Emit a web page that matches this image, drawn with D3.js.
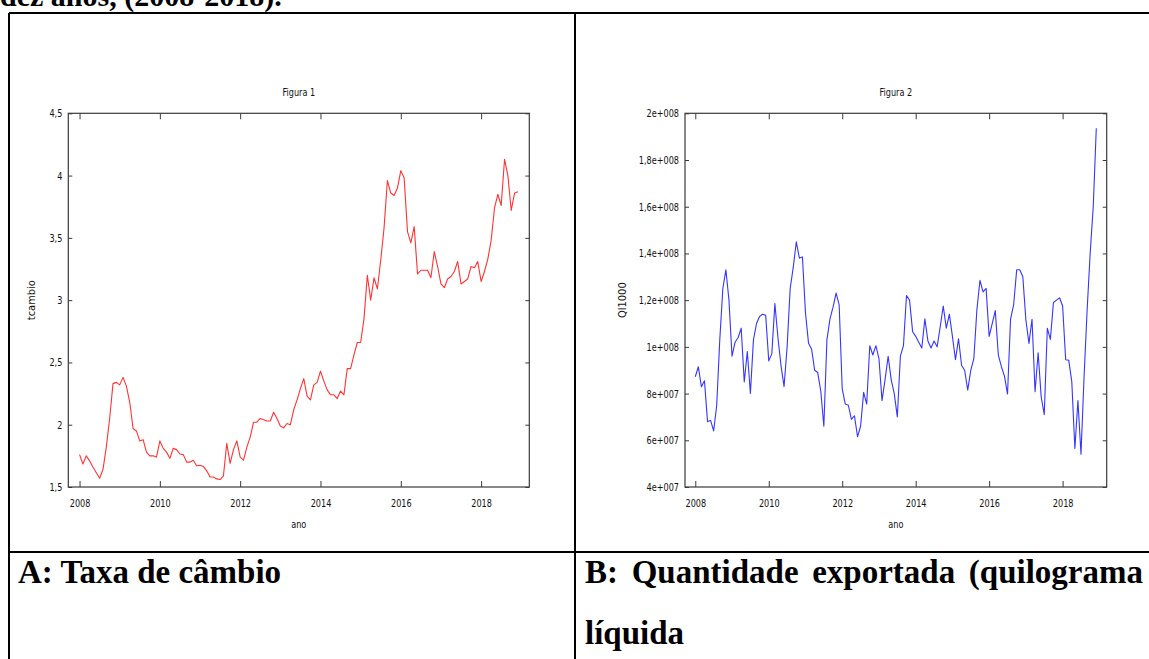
<!DOCTYPE html>
<html>
<head>
<meta charset="utf-8">
<script src="https://cdn.jsdelivr.net/npm/d3@7"></script>
<style>
  body { margin: 0; background: #fff; }
  svg { display: block; }
</style>
</head>
<body>
<div id="chart"></div>
<script>
const [WIDTH, HEIGHT] = [1149, 659];

// monthly series, 2008:01 .. 2018:12
const START_YEAR = 2008;

const tcambio = [
    1.76, 1.685, 1.75, 1.71, 1.66, 1.615, 1.57, 1.64, 1.82, 2.05, 2.33, 2.34,
    2.32, 2.38, 2.31, 2.18, 1.97, 1.95, 1.87, 1.88, 1.78, 1.75, 1.75, 1.74,
    1.87, 1.81, 1.78, 1.73, 1.81, 1.80, 1.765, 1.76, 1.70, 1.70, 1.715, 1.67,
    1.675, 1.665, 1.63, 1.58, 1.58, 1.565, 1.56, 1.59, 1.85, 1.69, 1.80, 1.87,
    1.74, 1.715, 1.82, 1.90, 2.02, 2.02, 2.05, 2.04, 2.03, 2.03, 2.10, 2.05,
    1.99, 1.975, 2.01, 2.00, 2.12, 2.20, 2.29, 2.37, 2.23, 2.20, 2.32, 2.34,
    2.43, 2.35, 2.28, 2.24, 2.24, 2.21, 2.27, 2.24, 2.45, 2.45, 2.56, 2.66,
    2.66, 2.85, 3.20, 3.00, 3.18, 3.09, 3.32, 3.58, 3.96, 3.86, 3.84, 3.90,
    4.04, 3.98, 3.55, 3.46, 3.59, 3.21, 3.24, 3.24, 3.24, 3.18, 3.39, 3.27,
    3.13, 3.10, 3.17, 3.19, 3.23, 3.31, 3.13, 3.15, 3.17, 3.27, 3.26, 3.31,
    3.15, 3.23, 3.33, 3.48, 3.74, 3.85, 3.76, 4.13, 4.00, 3.72, 3.86, 3.87,
];

// Ql1000, read in units of 1e7
const ql1000 = [
    8.72, 9.15, 8.29, 8.55, 6.8, 6.85, 6.4, 7.5, 10.3, 12.5, 13.3, 12.0,
    9.6, 10.2, 10.4, 10.8, 8.5, 9.8, 8.0, 10.3, 11.0, 11.3, 11.4, 11.35,
    9.4, 9.7, 11.85, 10.4, 9.2, 8.3, 10.0, 12.5, 13.4, 14.5, 13.8, 13.85,
    11.45, 10.15, 9.9, 9.0, 8.9, 8.1, 6.6, 10.3, 11.2, 11.7, 12.3, 11.8,
    8.2, 7.55, 7.5, 6.9, 7.05, 6.15, 6.6, 8.05, 7.55, 10.05, 9.65, 10.05,
    9.5, 7.7, 8.6, 9.6, 8.6, 8.0, 7.0, 9.6, 10.05, 12.2, 12.0, 10.65,
    10.45, 10.2, 9.95, 11.2, 10.25, 9.95, 10.25, 10.0, 10.85, 11.75, 10.8, 11.4,
    10.45, 9.45, 10.35, 9.2, 9.0, 8.15, 9.0, 9.5, 11.6, 12.85, 12.35, 12.5,
    10.45, 11.0, 11.55, 9.65, 9.15, 8.75, 7.98, 11.2, 11.8, 13.3, 13.3, 13.0,
    11.15, 10.15, 11.18, 8.08, 9.75, 7.86, 7.1, 10.8, 10.32, 11.9, 12.0, 12.1,
    11.75, 9.45, 9.43, 8.5, 5.65, 7.7, 5.4, 8.7, 11.57, 14.0, 16.0, 19.36,
];

const xTicks = [2008, 2010, 2012, 2014, 2016, 2018];
const xTickLabels = ['2008', '2010', '2012', '2014', '2016', '2018'];

const tcambioTicks = [1.5, 2, 2.5, 3, 3.5, 4, 4.5];
const tcambioTickLabels = ['1,5', '2', '2,5', '3', '3,5', '4', '4,5'];

const qlTicks = [4e7, 6e7, 8e7, 1e8, 1.2e8, 1.4e8, 1.6e8, 1.8e8, 2e8];
const qlTickLabels = ['4e+007', '6e+007', '8e+007', '1e+008', '1,2e+008',
    '1,4e+008', '1,6e+008', '1,8e+008', '2e+008'];

const PLOT_FONT = '"DejaVu Sans Condensed", "DejaVu Sans", sans-serif';
const TABLE_FONT = '"Liberation Serif", "Times New Roman", serif';
const SQUEEZE = 0.82; // plot text looks horizontally squashed in the original
const FRAME_COLOR = '#3a3a3a';

const svg = d3.select('#chart').append('svg')
    .attr('width', WIDTH)
    .attr('height', HEIGHT)
    .attr('viewBox', `0 0 ${WIDTH} ${HEIGHT}`);

svg.append('rect')
    .attr('width', WIDTH)
    .attr('height', HEIGHT)
    .attr('fill', '#fff');

// ---- document table around the figures ----
svg.append('text')
    .attr('x', 0)
    .attr('y', 6)
    .attr('font-family', TABLE_FONT)
    .attr('font-weight', 'bold')
    .attr('font-size', 30)
    .text('dez anos, (2008-2018).');

const table = svg.append('g')
    .attr('stroke', '#000')
    .attr('stroke-width', 2);
table.append('line').attr('x1', 9).attr('x2', WIDTH + 2).attr('y1', 13).attr('y2', 13);
table.append('line').attr('x1', 9).attr('x2', 9).attr('y1', 13).attr('y2', HEIGHT + 2);
table.append('line').attr('x1', 575).attr('x2', 575).attr('y1', 13).attr('y2', HEIGHT + 2);
table.append('line').attr('x1', 9).attr('x2', WIDTH + 2).attr('y1', 552).attr('y2', 552);

const captions = svg.append('g')
    .attr('font-family', TABLE_FONT)
    .attr('font-weight', 'bold')
    .attr('font-size', 33)
    .attr('fill', '#000');

captions.append('text')
    .attr('x', 18)
    .attr('y', 583)
    .text('A: Taxa de câmbio');

// justified first line of caption B
const captionBWords = ['B:', 'Quantidade', 'exportada', '(quilograma'];
const [bLeft, bRight] = [585, 1143];
const bWords = captions.selectAll('.bword')
    .data(captionBWords)
    .enter()
    .append('text')
    .attr('class', 'bword')
    .attr('y', 583)
    .text((d) => d);
const widths = [];
bWords.each(function () { widths.push(this.getComputedTextLength()); });
const gap = (bRight - bLeft - d3.sum(widths)) / (captionBWords.length - 1);
let cursor = bLeft;
bWords.attr('x', (d, i) => {
    const x = cursor;
    cursor += widths[i] + gap;
    return x;
});

captions.append('text')
    .attr('x', bLeft)
    .attr('y', 644)
    .text('líquida');

// ---- the two gretl-style plots ----
function drawPanel(cfg) {
    const x = d3.scaleLinear()
        .domain([2007.72, 2019.2])
        .range([cfg.left, cfg.right]);
    const y = d3.scaleLinear()
        .domain(cfg.yDomain)
        .range([cfg.bottom, cfg.top]);

    const g = svg.append('g')
        .attr('font-family', PLOT_FONT)
        .attr('font-size', 11)
        .attr('fill', '#111');

    const bottomAxis = d3.axisBottom(x)
        .tickValues(xTicks)
        .tickFormat((d, i) => xTickLabels[i])
        .tickSizeInner(-6)
        .tickSizeOuter(0)
        .tickPadding(12);
    const leftAxis = d3.axisLeft(y)
        .tickValues(cfg.yTicks)
        .tickFormat((d, i) => cfg.yTickLabels[i])
        .tickSizeInner(-4)
        .tickSizeOuter(0)
        .tickPadding(6);

    const axes = [
        [bottomAxis, `translate(0,${cfg.bottom})`],
        [leftAxis, `translate(${cfg.left},0)`],
        [d3.axisTop(x).tickValues(xTicks).tickFormat('').tickSizeInner(-6).tickSizeOuter(0),
            `translate(0,${cfg.top})`],
        [d3.axisRight(y).tickValues(cfg.yTicks).tickFormat('').tickSizeInner(-4).tickSizeOuter(0),
            `translate(${cfg.right},0)`],
    ];
    axes.forEach(([axis, transform]) => {
        const a = g.append('g')
            .attr('transform', transform)
            .call(axis);
        a.select('.domain').remove();
        a.selectAll('line').attr('stroke', FRAME_COLOR);
        a.selectAll('text')
            .attr('class', 'squeeze')
            .attr('fill', '#111')
            .attr('font-family', PLOT_FONT)
            .attr('font-size', 11);
    });

    g.append('rect')
        .attr('x', cfg.left)
        .attr('y', cfg.top)
        .attr('width', cfg.right - cfg.left)
        .attr('height', cfg.bottom - cfg.top)
        .attr('fill', 'none')
        .attr('stroke', FRAME_COLOR)
        .attr('stroke-width', 1.2);

    const line = d3.line()
        .x((d, i) => x(START_YEAR + i / 12))
        .y((d) => y(d));

    g.append('path')
        .datum(cfg.values)
        .attr('d', line)
        .attr('fill', 'none')
        .attr('stroke', cfg.color)
        .attr('stroke-width', 1.1)
        .attr('stroke-linejoin', 'round');

    g.append('text')
        .attr('class', 'squeeze')
        .attr('x', (cfg.left + cfg.right) / 2)
        .attr('y', 96)
        .attr('text-anchor', 'middle')
        .text(cfg.title);

    g.append('text')
        .attr('class', 'squeeze')
        .attr('x', (cfg.left + cfg.right) / 2)
        .attr('y', 528)
        .attr('text-anchor', 'middle')
        .text('ano');

    g.append('text')
        .attr('transform', `translate(${cfg.yLabelX},${(cfg.top + cfg.bottom) / 2}) rotate(-90)`)
        .attr('text-anchor', 'middle')
        .text(cfg.yLabel);
}

drawPanel({
    left: 68.3, right: 529.3, top: 113.3, bottom: 487,
    yDomain: [1.5, 4.5],
    yTicks: tcambioTicks,
    yTickLabels: tcambioTickLabels,
    values: tcambio,
    color: '#ff3333',
    title: 'Figura 1',
    yLabel: 'tcambio',
    yLabelX: 35,
});

drawPanel({
    left: 685, right: 1106.7, top: 113.3, bottom: 487,
    yDomain: [4e7, 2e8],
    yTicks: qlTicks,
    yTickLabels: qlTickLabels,
    values: ql1000.map((v) => v * 1e7),
    color: '#3535ff',
    title: 'Figura 2',
    yLabel: 'Ql1000',
    yLabelX: 626,
});

// squash plot texts horizontally like the scaled original
svg.selectAll('.squeeze').each(function () {
    const len = this.getComputedTextLength();
    if (len > 0) {
        d3.select(this)
            .attr('textLength', len * SQUEEZE)
            .attr('lengthAdjust', 'spacingAndGlyphs');
    }
});
</script>
</body>
</html>
